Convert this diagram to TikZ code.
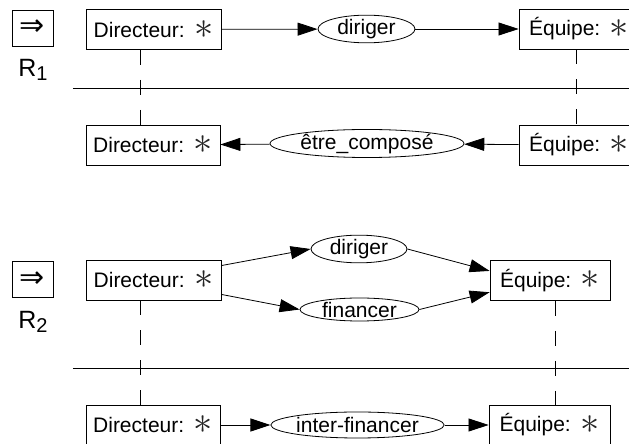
\documentclass[tikz,border=0pt]{standalone}
\usepackage{fontspec}
\usepackage{graphicx}
\setmainfont{Liberation Sans}
\newfontfamily\symfont{DejaVu Sans}
\usetikzlibrary{shapes.geometric,arrows.meta}
\newcommand{\conc}[1]{#1:\hspace{0.45em}\raisebox{-0.6pt}{\scalebox{1.75}{\color{black!85}$\ast$}}}
\newcommand{\rlabel}[1]{R\raisebox{-1.6pt}{\fontsize{10}{10}\selectfont #1}}
\tikzset{
  concept/.style={draw,rectangle,minimum height=20pt,inner sep=0pt,font=\fontsize{10.5}{12}\selectfont},
  relation/.style={draw,ellipse,inner sep=0pt,font=\fontsize{10.5}{12}\selectfont},
  rulebox/.style={draw,minimum width=20.5pt,minimum height=18pt,inner sep=0pt,font=\symfont\fontsize{15}{15}\selectfont},
  link/.style={-{Triangle[length=10pt,width=6.5pt]}},
  coref/.style={dash pattern=on 7.5pt off 7.5pt}
}
\begin{document}
\begin{tikzpicture}[x=0.5pt,y=-0.5pt]
\useasboundingbox (0,0) rectangle (629,444);
\clip (0,0) rectangle (629,444);
\coordinate (ca) at (140,0);
\coordinate (cb) at (576,0);
\coordinate (cc) at (555,0);
\node[rulebox] (ra) at (32.5,28) {⇒};
\node[font=\fontsize{12.5}{12}\selectfont] (la) at (33,70) {\rlabel{1}};
\node[concept,minimum width=67.5pt] (d1) at (153.5,29.5) {\conc{Directeur}};
\node[relation,minimum width=48.5pt,minimum height=10pt] (r1) at (366.5,29) {diriger};
\node[concept,minimum width=60pt] (e1) at (579,29) {\conc{Équipe}};
\draw[link] (d1) -- (r1);
\draw[link] (r1) -- (e1);
\draw (73,88) -- (629,88);
\node[concept,minimum width=67pt] (d1b) at (153,145) {\conc{Directeur}};
\node[relation,minimum width=97pt,minimum height=13.5pt] (r1b) at (367,143.5) {être\_composé};
\node[concept,minimum width=60pt] (e1b) at (579,145) {\conc{Équipe}};
\draw[link] (e1b) -- (r1b);
\draw[link] (r1b) -- (d1b);
\draw[coref] (d1.south -| ca) -- (d1b.north -| ca);
\draw[coref] (e1.south -| cb) -- (e1b.north -| cb);
\node[rulebox] (rb) at (32.5,279.5) {⇒};
\node[font=\fontsize{12.5}{12}\selectfont] (lb) at (33,322) {\rlabel{2}};
\node[concept,minimum width=67.5pt] (d2) at (153.5,280) {\conc{Directeur}};
\node[relation,minimum width=48pt,minimum height=12pt] (r2a) at (359,249) {diriger};
\node[relation,minimum width=59.5pt,minimum height=11.5pt] (r2b) at (359.5,309.5) {financer};
\node[concept,minimum width=60pt] (e2) at (550,280.5) {\conc{Équipe}};
\draw[link] (d2.12) -- (r2a.west);
\draw[link] (d2.-12) -- (r2b.west);
\draw[link] (r2a.east) -- (e2.171);
\draw[link] (r2b.east) -- (e2.191);
\draw (73,368) -- (629,368);
\node[concept,minimum width=67pt] (d3) at (153,425) {\conc{Directeur}};
\node[relation,minimum width=80.5pt,minimum height=13pt] (r3) at (357.5,425) {inter-financer};
\node[concept,minimum width=60.5pt] (e3) at (549.5,425) {\conc{Équipe}};
\draw[link] (d3) -- (r3);
\draw[link] (r3) -- (e3);
\draw[coref] (d2.south -| ca) -- (d3.north -| ca);
\draw[coref] (e2.south -| cc) -- (e3.north -| cc);
\end{tikzpicture}
\end{document}
